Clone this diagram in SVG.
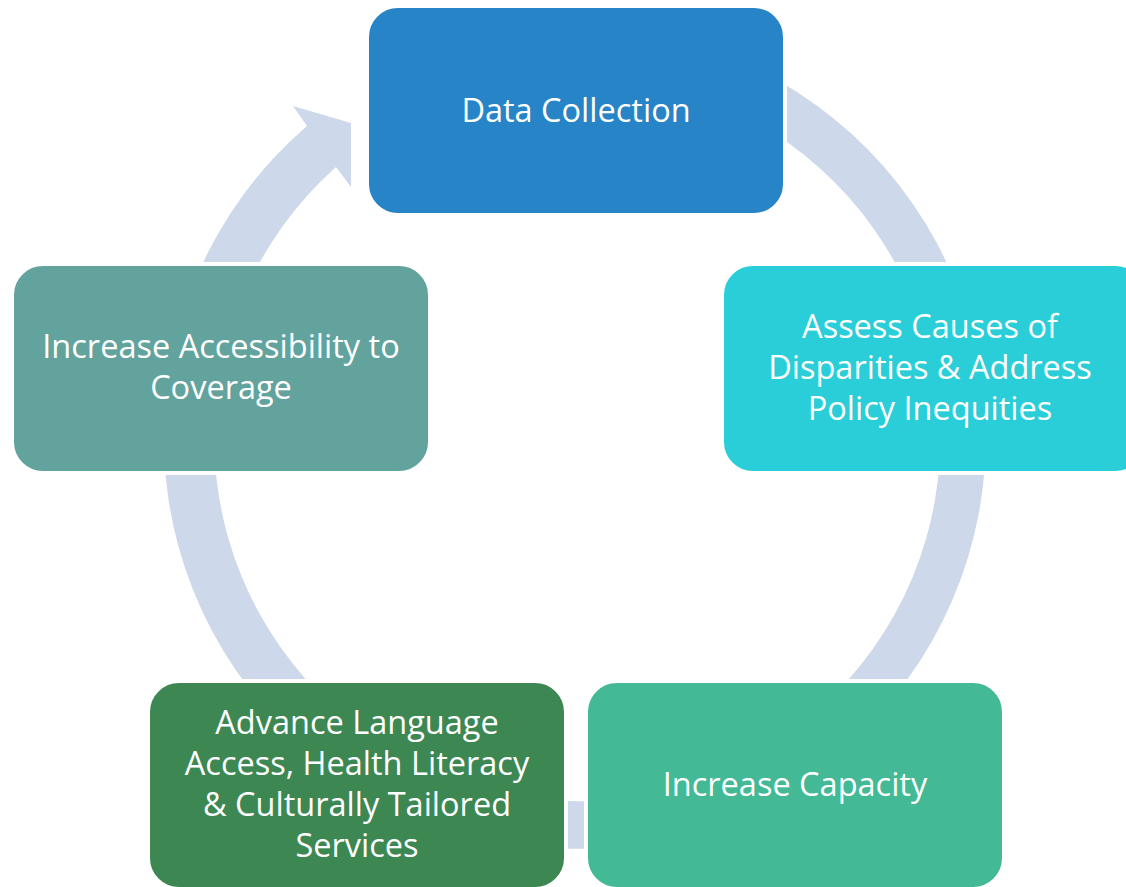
<svg xmlns="http://www.w3.org/2000/svg" width="1126" height="887" viewBox="0 0 1126 887">
  <style>
    .node rect { stroke: #FFFFFF; stroke-width: 4; }
    .node text { font-family: "Open Sans", "Noto Sans", sans-serif; font-size: 32.5px; fill: #FFFFFF; text-anchor: middle; }
  </style>
  <rect width="1126" height="887" fill="#FFFFFF"/>
  <g id="connectors">
    <path d="M 307 126 L 293 106 L 351 123 L 351 187 L 336 167 A 363 363 0 1 0 639 80.5 L 647.4 33.2 A 411 411 0 1 1 307 126 Z" fill="#CDD8EA"/>
  </g>
  <g id="node-data-collection" class="node">
    <rect x="367" y="6" width="418" height="209" rx="31" fill="#2784C7"/>
    <text x="576" y="122">Data Collection</text>
  </g>
  <g id="node-assess" class="node">
    <rect x="722" y="264" width="424" height="209" rx="31" fill="#29CED8"/>
    <text x="930" y="338">Assess Causes of</text>
    <text x="930" y="379">Disparities &amp; Address</text>
    <text x="930" y="420">Policy Inequities</text>
  </g>
  <g id="node-capacity" class="node">
    <rect x="586" y="681" width="418" height="208" rx="31" fill="#43B996"/>
    <text x="795" y="796">Increase Capacity</text>
  </g>
  <g id="node-language" class="node">
    <rect x="148" y="681" width="418" height="208" rx="31" fill="#3D8753"/>
    <text x="357" y="734">Advance Language</text>
    <text x="357" y="775">Access, Health Literacy</text>
    <text x="357" y="816">&amp; Culturally Tailored</text>
    <text x="357" y="857">Services</text>
  </g>
  <g id="node-accessibility" class="node">
    <rect x="12" y="264" width="418" height="209" rx="31" fill="#62A39D"/>
    <text x="221" y="358">Increase Accessibility to</text>
    <text x="221" y="399">Coverage</text>
  </g>
</svg>
